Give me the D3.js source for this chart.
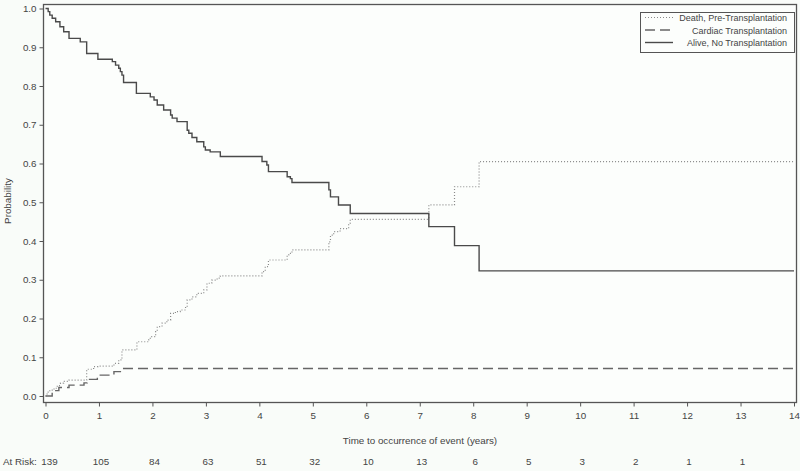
<!DOCTYPE html>
<html>
<head>
<meta charset="utf-8">
<script src="https://cdn.jsdelivr.net/npm/d3@7/dist/d3.min.js"></script>
<style>
  html, body { margin: 0; padding: 0; background: #f9fcf9; }
  svg { display: block; font-family: "Liberation Sans", Arial, sans-serif; }
</style>
</head>
<body>
<svg id="chart" width="800" height="471"></svg>
<script>
// Series: Alive, No Transplantation (solid)
const aliveTimes = [0, 0.05, 0.08, 0.125, 0.19, 0.27, 0.34, 0.44, 0.65, 0.77, 0.98, 1.25, 1.31, 1.37, 1.40, 1.43, 1.46, 1.70, 1.96, 2.03, 2.09, 2.21, 2.34, 2.37, 2.46, 2.65, 2.68, 2.74, 2.83, 2.96, 2.99, 3.08, 3.27, 4.05, 4.14, 4.17, 4.52, 4.58, 4.61, 5.30, 5.33, 5.48, 5.70, 7.17, 7.65, 8.11, 14];
const aliveVals  = [1.0, 0.992, 0.983, 0.975, 0.966, 0.953, 0.940, 0.923, 0.914, 0.884, 0.869, 0.863, 0.854, 0.846, 0.837, 0.828, 0.809, 0.781, 0.772, 0.764, 0.751, 0.738, 0.725, 0.717, 0.708, 0.686, 0.678, 0.667, 0.656, 0.643, 0.635, 0.630, 0.618, 0.605, 0.596, 0.579, 0.566, 0.561, 0.551, 0.532, 0.514, 0.493, 0.471, 0.437, 0.388, 0.323, 0.323];

// Series: Death, Pre-Transplantation (dotted)
const deathTimes = [0, 0.03, 0.08, 0.16, 0.22, 0.28, 0.34, 0.44, 0.77, 0.90, 0.98, 1.28, 1.37, 1.43, 1.71, 1.93, 1.96, 2.06, 2.09, 2.18, 2.27, 2.34, 2.43, 2.52, 2.62, 2.65, 2.74, 2.83, 2.96, 3.02, 3.11, 3.21, 3.27, 4.05, 4.11, 4.17, 4.52, 4.55, 4.61, 5.30, 5.33, 5.39, 5.51, 5.67, 5.70, 7.17, 7.65, 8.11, 14];
const deathVals  = [0, 0.010, 0.015, 0.020, 0.027, 0.033, 0.038, 0.041, 0.069, 0.076, 0.077, 0.084, 0.093, 0.119, 0.140, 0.145, 0.153, 0.166, 0.179, 0.188, 0.196, 0.213, 0.218, 0.222, 0.230, 0.248, 0.256, 0.265, 0.274, 0.291, 0.299, 0.304, 0.310, 0.321, 0.334, 0.351, 0.364, 0.368, 0.377, 0.398, 0.415, 0.424, 0.432, 0.446, 0.456, 0.493, 0.540, 0.605, 0.605];

// Series: Cardiac Transplantation (dashed)
const cardTimes = [0, 0.125, 0.25, 0.44, 0.72, 0.78, 0.97, 1.0, 1.28, 1.43, 14];
const cardVals  = [0, 0.014, 0.022, 0.028, 0.034, 0.043, 0.050, 0.054, 0.063, 0.071, 0.071];

const xTicks = [0,1,2,3,4,5,6,7,8,9,10,11,12,13,14];
const yTicks = [0,0.1,0.2,0.3,0.4,0.5,0.6,0.7,0.8,0.9,1.0];
const atRiskTimes = [0,1,2,3,4,5,6,7,8,9,10,11,12,13];
const atRiskVals  = [139,105,84,63,51,32,10,13,6,5,3,2,1,1];

const legendLabels = ["Death, Pre-Transplantation", "Cardiac Transplantation", "Alive, No Transplantation"];

const svg = d3.select("#chart");
const W = 800, H = 471;
svg.append("rect").attr("width", W).attr("height", H).attr("fill", "#f9fcf9");

const frame = {left: 43.5, right: 796.5, top: 4.5, bottom: 402.5};
const x = d3.scaleLinear().domain([0, 14]).range([45.5, 794]);
const y = d3.scaleLinear().domain([0, 1]).range([396, 8.5]);

const axisColor = "#555";
const textColor = "#444";
const fontFam = "Liberation Sans, Arial, sans-serif";

// frame
svg.append("rect")
  .attr("x", frame.left).attr("y", frame.top)
  .attr("width", frame.right - frame.left).attr("height", frame.bottom - frame.top)
  .attr("fill", "#fcfefc").attr("stroke", axisColor).attr("stroke-width", 1.3);

// x axis
const xAxis = d3.axisBottom(x).tickValues(xTicks).tickSize(4).tickPadding(6).tickFormat(d3.format("d"));
const gx = svg.append("g").attr("transform", `translate(0,${frame.bottom})`).call(xAxis);
gx.select(".domain").remove();
gx.selectAll("line").attr("stroke", axisColor);
gx.selectAll("text").attr("fill", textColor).attr("font-size", 9.8).attr("font-family", fontFam);

// y axis
const yAxis = d3.axisLeft(y).tickValues(yTicks).tickSize(4).tickPadding(3).tickFormat(d3.format(".1f"));
const gy = svg.append("g").attr("transform", `translate(${frame.left},0)`).call(yAxis);
gy.select(".domain").remove();
gy.selectAll("line").attr("stroke", axisColor);
gy.selectAll("text").attr("fill", textColor).attr("font-size", 9.8).attr("font-family", fontFam);

// axis labels
svg.append("text").attr("x", 420).attr("y", 444).attr("text-anchor", "middle")
  .attr("font-size", 9.8).attr("fill", textColor).text("Time to occurrence of event (years)");
svg.append("text").attr("transform", "translate(11,201) rotate(-90)").attr("text-anchor", "middle")
  .attr("font-size", 9.8).attr("fill", textColor).text("Probability");

// at risk
svg.append("text").attr("x", 3).attr("y", 465).attr("font-size", 9.8).attr("fill", textColor).text("At Risk:");
svg.selectAll("text.risk").data(atRiskTimes).enter().append("text")
  .attr("class", "risk")
  .attr("x", (d, i) => x(d) + (i === 0 ? 4 : 2))
  .attr("y", 465).attr("text-anchor", "middle")
  .attr("font-size", 9.8).attr("fill", textColor)
  .text((d, i) => atRiskVals[i]);

// lines
const line = d3.line().x(d => x(d[0])).y(d => y(d[1])).curve(d3.curveStepAfter);
const series = [
  {t: deathTimes, v: deathVals, color: "#8a8a8a", dash: "1,2", w: 1.2},
  {t: cardTimes, v: cardVals, color: "#666", dash: "10,5", w: 1.4},
  {t: aliveTimes, v: aliveVals, color: "#4a4a4a", dash: null, w: 1.4}
];
series.forEach(s => {
  const pts = s.t.map((t, i) => [t, s.v[i]]);
  svg.append("path").datum(pts).attr("d", line)
    .attr("fill", "none").attr("stroke", s.color).attr("stroke-width", s.w)
    .attr("stroke-dasharray", s.dash);
});

// legend
const lg = svg.append("g");
lg.append("rect").attr("x", 640.5).attr("y", 12.5).attr("width", 154).attr("height", 40)
  .attr("fill", "#fcfefc").attr("stroke", axisColor).attr("stroke-width", 1);
series.forEach((s, i) => {
  const ly = 17.5 + i * 12.5;
  lg.append("line").attr("x1", 645).attr("x2", 673).attr("y1", ly).attr("y2", ly)
    .attr("stroke", s.color).attr("stroke-width", s.w).attr("stroke-dasharray", s.dash);
  lg.append("text").attr("x", 787).attr("y", ly + 3.5).attr("text-anchor", "end")
    .attr("font-size", 9).attr("fill", textColor).text(legendLabels[i]);
});
</script>
</body>
</html>
